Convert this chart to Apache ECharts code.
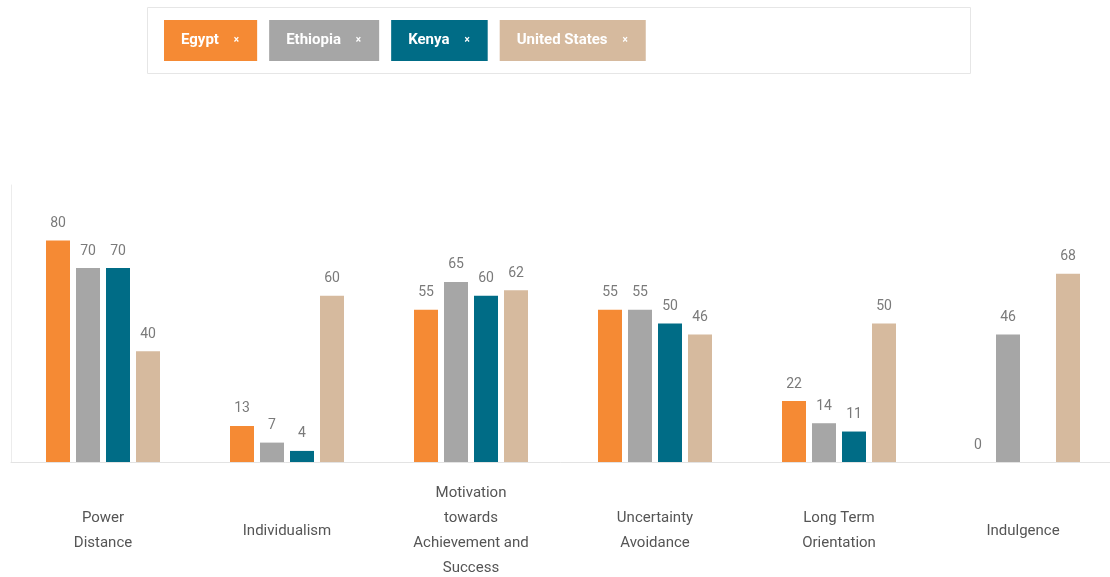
<!DOCTYPE html>
<html>
<head>
<meta charset="utf-8">
<script src="https://cdn.jsdelivr.net/npm/echarts@6/dist/echarts.min.js"></script>
<style>
  html, body { margin: 0; padding: 0; background: #fff; }
  #chart { width: 1110px; height: 577px; }
</style>
</head>
<body>
<div id="chart"></div>
<script>
// Hofstede cultural dimensions by country
const categories = [
  'Power\nDistance',
  'Individualism',
  'Motivation\ntowards\nAchievement and\nSuccess',
  'Uncertainty\nAvoidance',
  'Long Term\nOrientation',
  'Indulgence'
];
const countries = ['Egypt', 'Ethiopia', 'Kenya', 'United States'];
const egypt        = [80, 13, 55, 55, 22, 0];
const ethiopia     = [70, 7, 65, 55, 14, 46];
const kenya        = [70, 4, 60, 50, 11, null];
const unitedStates = [40, 60, 62, 46, 50, 68];
const colors = ['#F58A34', '#A6A6A6', '#006C86', '#D6BA9E'];

const values = [egypt, ethiopia, kenya, unitedStates];
const font = 'Roboto, "Noto Sans", sans-serif';

const chart = echarts.init(document.getElementById('chart'));
chart.setOption({
  animation: false,
  textStyle: { fontFamily: font },
  graphic: [{
    type: 'rect',
    left: 147, top: 7,
    shape: { width: 823, height: 66 },
    style: { fill: '#fff', stroke: '#e6e6e6', lineWidth: 1 },
    z: -1
  }],
  legend: {
    left: 159, top: 20,
    padding: 0,
    itemGap: 7,
    itemWidth: 0, itemHeight: 0,
    icon: 'rect',
    selectedMode: true,
    inactiveColor: '#ccc',
    formatter: name => name + '    {x|×}',
    data: countries.map((name, i) => ({
      name,
      itemStyle: { opacity: 0 },
      textStyle: {
        color: '#fff',
        fontFamily: font,
        fontWeight: 'bold',
        fontSize: 15,
        backgroundColor: colors[i],
        padding: [12, 18, 12, 17],
        lineHeight: 17,
        rich: { x: { fontSize: 10, color: '#fff', fontWeight: 'bold', lineHeight: 17 } }
      }
    }))
  },
  grid: { left: 11, top: 185, width: 1104, bottom: 115, containLabel: false, outerBoundsMode: 'none' },
  xAxis: {
    type: 'category',
    data: categories,
    axisLine: { lineStyle: { color: '#e3e3e3', width: 1 } },
    axisTick: { show: false },
    axisLabel: {
      color: '#555',
      fontSize: 15,
      lineHeight: 25,
      margin: 69,
      verticalAlign: 'middle',
      interval: 0
    }
  },
  yAxis: {
    type: 'value',
    min: 0, max: 100,
    axisLine: { show: true, lineStyle: { color: '#ececec', width: 1 } },
    axisTick: { show: false },
    axisLabel: { show: false },
    splitLine: { show: false }
  },
  series: countries.map((name, i) => ({
    name,
    type: 'bar',
    data: values[i],
    barWidth: 24,
    barGap: '25%',
    itemStyle: { color: colors[i] },
    label: {
      show: true,
      position: 'top',
      distance: 10,
      color: '#7a7a7a',
      fontSize: 14,
      fontFamily: font
    }
  }))
});
</script>
</body>
</html>
